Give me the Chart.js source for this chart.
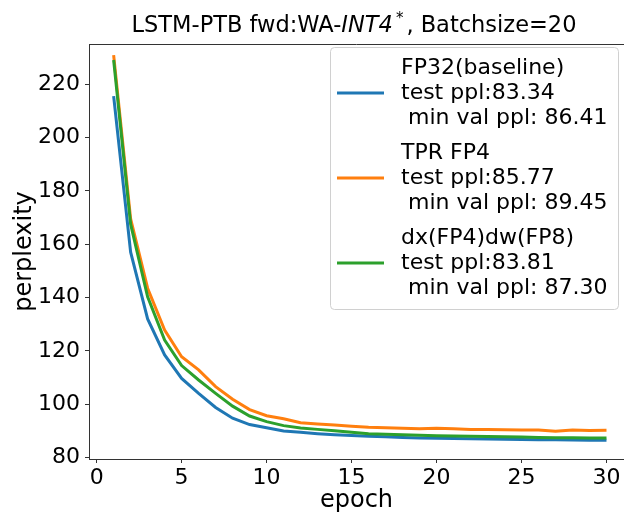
<!DOCTYPE html>
<html>
<head>
<meta charset="utf-8">
<title>LSTM-PTB perplexity</title>
<script src="https://cdn.jsdelivr.net/npm/chart.js@4.4.1/dist/chart.umd.min.js"></script>
<style>
  html, body { margin: 0; padding: 0; background: #fff; overflow: hidden; }
</style>
</head>
<body>
<canvas id="chart" width="624" height="513"></canvas>
<script>
/* values */
const EPOCHS = [1, 2, 3, 4, 5, 6, 7, 8, 9, 10, 11, 12, 13, 14, 15,
                16, 17, 18, 19, 20, 21, 22, 23, 24, 25, 26, 27, 28, 29, 30];
const FP32 = [215.5, 157.0, 132.0, 118.5, 109.7, 104.1, 98.8, 94.8, 92.4, 91.2,
              90.0, 89.5, 89.0, 88.6, 88.3, 88.0, 87.8, 87.6, 87.4, 87.3,
              87.2, 87.1, 87.0, 86.9, 86.8, 86.7, 86.7, 86.6, 86.5, 86.5];
const TPR_FP4 = [230.8, 169.5, 143.5, 127.8, 117.8, 112.9, 106.6, 101.9, 98.0, 95.7,
                 94.6, 93.1, 92.6, 92.2, 91.8, 91.4, 91.2, 91.0, 90.8, 91.0,
                 90.8, 90.6, 90.6, 90.5, 90.4, 90.4, 89.9, 90.4, 90.2, 90.3];
const DX_FP4_DW_FP8 = [229.0, 167.5, 140.3, 124.1, 114.5, 109.1, 104.1, 99.3, 95.6, 93.5,
                       92.0, 91.1, 90.6, 90.1, 89.5, 89.0, 88.8, 88.6, 88.4, 88.2,
                       88.1, 88.0, 87.9, 87.8, 87.7, 87.6, 87.5, 87.5, 87.4, 87.4];

const LEGEND_FP32 = ['FP32(baseline)', 'test ppl:83.34', ' min val ppl: 86.41'];
const LEGEND_TPR = ['TPR FP4', 'test ppl:85.77', ' min val ppl: 89.45'];
const LEGEND_DXDW = ['dx(FP4)dw(FP8)', 'test ppl:83.81', ' min val ppl: 87.30'];

const X_TICKS = [0, 5, 10, 15, 20, 25, 30];
const Y_TICKS = [80, 100, 120, 140, 160, 180, 200, 220];

const FONT = 'DejaVu Sans';
const BLUE = '#1f77b4', ORANGE = '#ff7f0e', GREEN = '#2ca02c';

const pts = (ys) => EPOCHS.map((e, i) => ({x: e, y: ys[i]}));

/* title with italic INT4 and superscript star */
const titlePlugin = {
  id: 'mplTitle',
  afterDraw(chart) {
    const ctx = chart.ctx;
    const parts = [
      {t: 'LSTM-PTB fwd:WA-', f: `22.5px "${FONT}"`, dy: 0},
      {t: 'INT4', f: `italic 22.5px "${FONT}"`, dy: 0},
      {t: '*', f: `15px "${FONT}"`, dy: -9, pad: 3},
      {t: ', Batchsize=20', f: `22.5px "${FONT}"`, dy: 0},
    ];
    ctx.save();
    ctx.fillStyle = '#000';
    ctx.textBaseline = 'alphabetic';
    let total = 0;
    parts.forEach(p => { ctx.font = p.f; p.w = ctx.measureText(p.t).width + 2 * (p.pad || 0); total += p.w; });
    const {left, right, top} = chart.chartArea;
    let x = 354 - total / 2;
    parts.forEach(p => {
      ctx.font = p.f;
      ctx.fillText(p.t, x + (p.pad || 0), 32 + p.dy);
      x += p.w;
    });
    // top spine
    ctx.strokeStyle = '#333';
    ctx.lineWidth = 1;
    ctx.beginPath();
    ctx.moveTo(left, top + 0.5);
    ctx.lineTo(right, top + 0.5);
    ctx.stroke();
    ctx.restore();
  }
};

/* matplotlib-like legend box with three-line entries */
const legendPlugin = {
  id: 'mplLegend',
  afterDraw(chart) {
    const ctx = chart.ctx;
    const groups = [LEGEND_FP32, LEGEND_TPR, LEGEND_DXDW];
    ctx.save();
    ctx.fillStyle = 'rgba(255,255,255,0.8)';
    ctx.strokeStyle = '#d0d0d0';
    ctx.lineWidth = 1;
    ctx.beginPath();
    ctx.roundRect(330.5, 47.5, 288, 262, 4);
    ctx.fill();
    ctx.stroke();
    ctx.font = `22px "${FONT}"`;
    ctx.textBaseline = 'middle';
    ctx.fillStyle = '#000';
    groups.forEach((lines, i) => {
      const y0 = 68 + i * 85;
      ctx.strokeStyle = chart.data.datasets[i].borderColor;
      ctx.lineWidth = 3;
      ctx.beginPath();
      ctx.moveTo(337, y0 + 25);
      ctx.lineTo(384, y0 + 25);
      ctx.stroke();
      lines.forEach((s, j) => ctx.fillText(s, 401, y0 + j * 25));
    });
    ctx.restore();
  }
};

new Chart(document.getElementById('chart'), {
  type: 'line',
  data: {
    datasets: [
      {label: LEGEND_FP32.join(' '), data: pts(FP32), borderColor: BLUE, order: 2},
      {label: LEGEND_TPR.join(' '), data: pts(TPR_FP4), borderColor: ORANGE, order: 1},
      {label: LEGEND_DXDW.join(' '), data: pts(DX_FP4_DW_FP8), borderColor: GREEN, order: 0},
    ],
  },
  options: {
    responsive: false,
    animation: false,
    devicePixelRatio: 1,
    layout: {padding: {top: 44, right: 0, left: 0, bottom: 0}},
    elements: {
      line: {borderWidth: 3, tension: 0, fill: false},
      point: {radius: 0},
    },
    plugins: {legend: {display: false}, tooltip: {enabled: false}},
    scales: {
      x: {
        type: 'linear', min: -0.45, max: 31.03,
        afterBuildTicks: (s) => { s.ticks = X_TICKS.map(v => ({value: v})); },
        afterFit: (s) => { s.height = 54; },
        grid: {display: true, drawOnChartArea: false, drawTicks: true, tickLength: 4, color: '#333'},
        border: {display: true, color: '#333', width: 1},
        ticks: {font: {family: FONT, size: 22}, color: '#000', padding: 2, maxRotation: 0},
        title: {display: true, text: 'epoch', font: {family: FONT, size: 24, lineHeight: 1}, color: '#000', padding: 0},
      },
      y: {
        type: 'linear', min: 79.5, max: 235,
        afterBuildTicks: (s) => { s.ticks = Y_TICKS.map(v => ({value: v})); },
        afterFit: (s) => { s.width = 89; },
        grid: {display: true, drawOnChartArea: false, drawTicks: true, tickLength: 4, color: '#333'},
        border: {display: true, color: '#333', width: 1},
        ticks: {font: {family: FONT, size: 22}, color: '#000', padding: 5},
        title: {display: true, text: 'perplexity', font: {family: FONT, size: 24, lineHeight: 1}, color: '#000', padding: {top: 13, bottom: 0}},
      },
    },
  },
  plugins: [titlePlugin, legendPlugin],
});
</script>
</body>
</html>
